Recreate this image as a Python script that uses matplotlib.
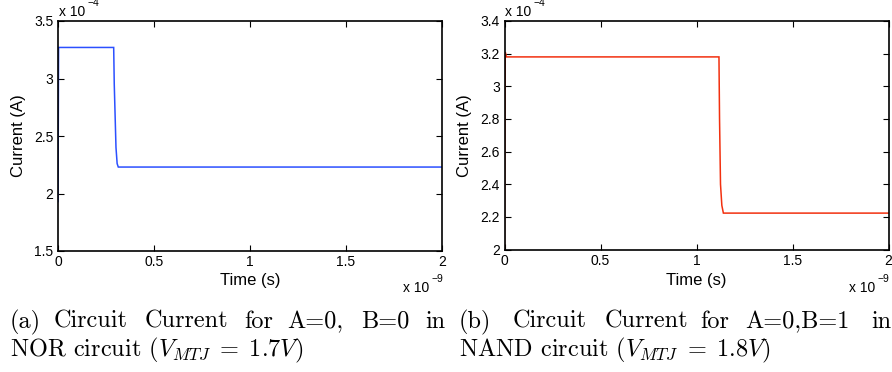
import matplotlib
matplotlib.use("Agg")
import matplotlib.pyplot as plt

# Transient supply current, time in ns and current in units of 1e-4 A
nor_time_ns = [0.0, 0.003, 0.290, 0.293, 0.302, 0.308, 0.314, 2.0]
nor_current = [1.93, 3.27, 3.27, 2.95, 2.40, 2.26, 2.23, 2.23]

nand_time_ns = [0.0, 0.004, 0.010, 1.117, 1.120, 1.125, 1.132, 1.140, 2.0]
nand_current = [2.00, 3.21, 3.18, 3.18, 2.80, 2.40, 2.27, 2.223, 2.223]

x_ticks = [0, 0.5, 1, 1.5, 2]
x_tick_labels = ["0", "0.5", "1", "1.5", "2"]
nor_y_ticks = [1.5, 2, 2.5, 3, 3.5]
nor_y_labels = ["1.5", "2", "2.5", "3", "3.5"]
nand_y_ticks = [2, 2.2, 2.4, 2.6, 2.8, 3, 3.2, 3.4]
nand_y_labels = ["2", "2.2", "2.4", "2.6", "2.8", "3", "3.2", "3.4"]

W, H = 892, 372
SANS = ["Liberation Sans", "DejaVu Sans"]
plt.rcParams["mathtext.fontset"] = "cm"

fig = plt.figure(figsize=(W / 100, H / 100), dpi=100)
fig.patch.set_facecolor("white")


def px(x, y):
    return x / W, 1 - y / H


def panel(rect, t, cur, yticks, ylabels, ylim, color, ylab_x, off_x, xoff_x):
    ax = fig.add_axes(rect)
    ax.plot(t, cur, color=color, lw=1.1, solid_joinstyle="miter")
    ax.set_xlim(0, 2)
    ax.set_ylim(*ylim)
    ax.set_xticks(x_ticks)
    ax.set_xticklabels(x_tick_labels, fontfamily=SANS, fontsize=10)
    ax.set_yticks(yticks)
    ax.set_yticklabels(ylabels, fontfamily=SANS, fontsize=10)
    ax.tick_params(direction="in", length=4, width=0.8, top=True, right=True)
    ax.tick_params(axis="x", pad=3.0)
    ax.tick_params(axis="y", pad=3.2)
    for s in ax.spines.values():
        s.set_linewidth(1.2)
    x0, x1 = rect[0] * W, (rect[0] + rect[2]) * W
    ytop = (1 - rect[1] - rect[3]) * H
    ybot = (1 - rect[1]) * H
    fig.text(*px((x0 + x1) / 2, 285), "Time (s)", ha="center", va="baseline",
             fontfamily=SANS, fontsize=12)
    fig.text(*px(ylab_x, (ytop + ybot) / 2), "Current (A)", ha="center",
             va="center", rotation=90, fontfamily=SANS, fontsize=12)
    # exponent annotations
    fig.text(*px(off_x, 15.5), "x 10", ha="left", va="baseline",
             fontfamily=SANS, fontsize=10)
    fig.text(*px(off_x + 28, 6.5), "\u22124", ha="left", va="baseline",
             fontfamily=SANS, fontsize=7.5)
    fig.text(*px(xoff_x, 292), "x 10", ha="left", va="baseline",
             fontfamily=SANS, fontsize=10)
    fig.text(*px(xoff_x + 28, 282), "\u22129", ha="left", va="baseline",
             fontfamily=SANS, fontsize=7.5)
    return ax


panel([58 / W, 1 - 251 / H, 384 / W, 230 / H], nor_time_ns, nor_current,
      nor_y_ticks, nor_y_labels, (1.5, 3.5), "#2b50ff", 18.5, 59, 403)
panel([504.5 / W, 1 - 249.5 / H, 384 / W, 228.5 / H], nand_time_ns, nand_current,
      nand_y_ticks, nand_y_labels, (2.0, 3.4), "#f2300f", 465, 505, 849)

# Sub-figure captions, first line justified word by word
CAP = dict(fontfamily="cmr10", fontsize=17.5, va="baseline", ha="left")
line1_a = [("(a)", 10), ("Circuit", 54), ("Current", 145), ("for", 244),
           ("A=0,", 287), ("B=0", 361), ("in", 425)]
line1_b = [("(b)", 459), ("Circuit", 513), ("Current", 605), ("for", 700),
           ("A=0,B=1", 745), ("in", 871)]
for word, x in line1_a + line1_b:
    fig.text(*px(x, 328), word, **CAP)

fig.text(*px(10, 356), r"NOR circuit ($V_{MTJ}\;=\;1.7V$)", **CAP)
fig.text(*px(459, 356), r"NAND circuit ($V_{MTJ}\;=\;1.8V$)", **CAP)

fig.savefig("out.png", dpi=100, facecolor="white")
